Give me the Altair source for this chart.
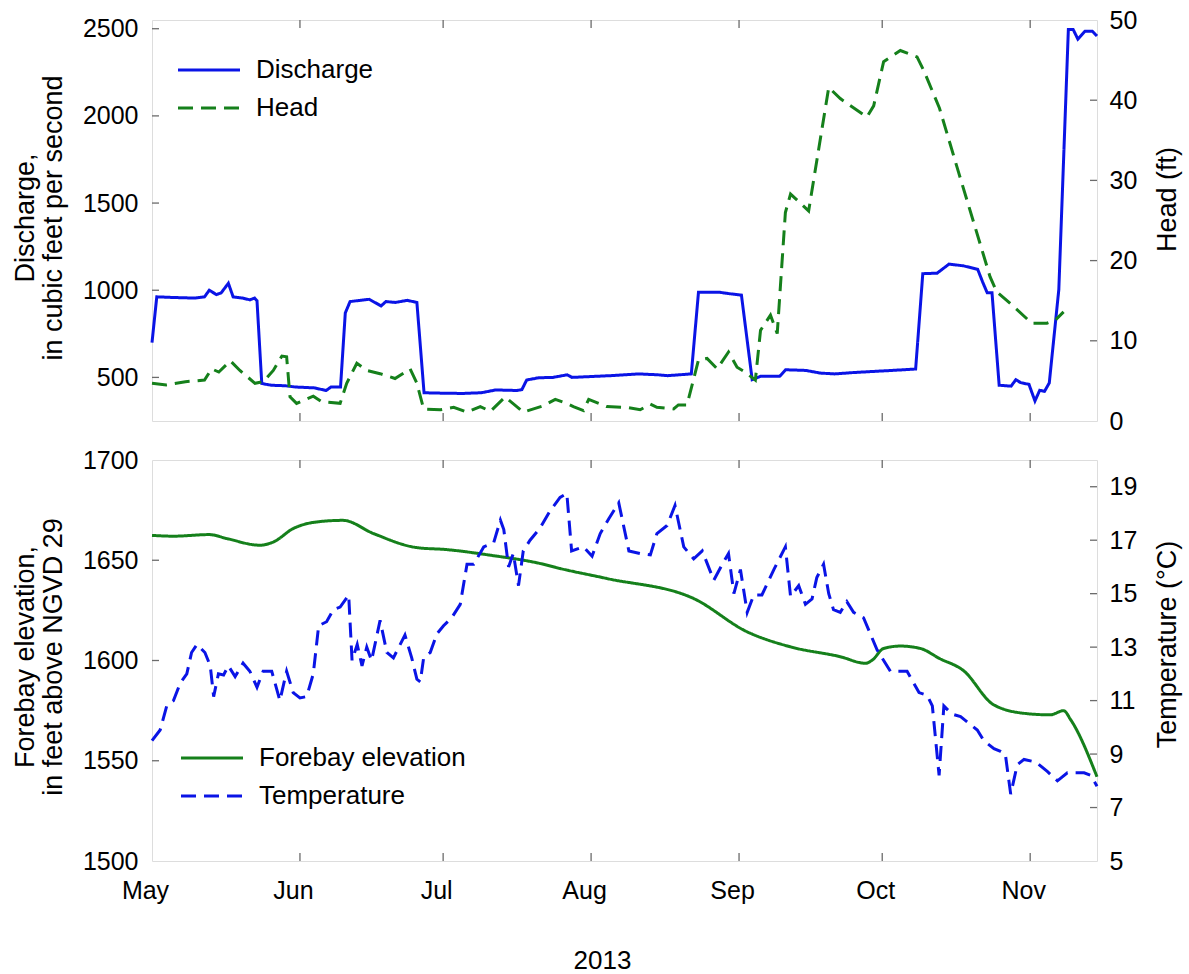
import altair as alt
import pandas as pd

# ---------------- data ----------------
discharge_dates = [
    "2013-05-01", "2013-05-02", "2013-05-06", "2013-05-10", "2013-05-12", "2013-05-13",
    "2013-05-14T12:00", "2013-05-15T12:00", "2013-05-17", "2013-05-18", "2013-05-20",
    "2013-05-21T12:00", "2013-05-22T12:00", "2013-05-23", "2013-05-24", "2013-05-26",
    "2013-05-29", "2013-05-31", "2013-06-04", "2013-06-06T12:00", "2013-06-07T12:00",
    "2013-06-09T12:00", "2013-06-10T12:00", "2013-06-11T12:00", "2013-06-13",
    "2013-06-15T12:00", "2013-06-18", "2013-06-19", "2013-06-21", "2013-06-23T12:00",
    "2013-06-25T12:00", "2013-06-27", "2013-06-30", "2013-07-05", "2013-07-09",
    "2013-07-12", "2013-07-16T12:00", "2013-07-17T12:00", "2013-07-18T12:00",
    "2013-07-21", "2013-07-24", "2013-07-27", "2013-07-28", "2013-08-01", "2013-08-05",
    "2013-08-11", "2013-08-15", "2013-08-17", "2013-08-21", "2013-08-22",
    "2013-08-23T12:00", "2013-08-28", "2013-08-30", "2013-09-01T12:00",
    "2013-09-03T18:00", "2013-09-05T12:00", "2013-09-09T12:00", "2013-09-10T18:00",
    "2013-09-15", "2013-09-18", "2013-09-21", "2013-09-25", "2013-09-29", "2013-10-03",
    "2013-10-08", "2013-10-09T12:00", "2013-10-12T12:00", "2013-10-15", "2013-10-18",
    "2013-10-21", "2013-10-22", "2013-10-23", "2013-10-24", "2013-10-25T12:00",
    "2013-10-28", "2013-10-29", "2013-10-30", "2013-10-31T18:00", "2013-11-02",
    "2013-11-03", "2013-11-04", "2013-11-05", "2013-11-07", "2013-11-09", "2013-11-10",
    "2013-11-11", "2013-11-12T12:00", "2013-11-14", "2013-11-15",
]
discharge_cfs = [
    700, 962, 958, 955, 962, 1000,
    975, 985, 1040, 962, 955,
    945, 955, 940, 465, 455,
    452, 445, 440, 425, 445,
    445, 870, 935, 940,
    948, 910, 935, 930, 942,
    930, 412, 410, 408, 412,
    428, 425, 430, 485,
    498, 500, 515, 500, 505, 510,
    520, 515, 510, 518, 520,
    988, 988, 980, 972,
    487, 506, 506, 544,
    540, 525, 520, 528, 534, 540,
    548, 1095, 1098, 1150, 1140,
    1120, 1050, 985, 985, 455,
    450, 487, 470, 460, 365,
    426, 420, 468, 1004, 2496, 2496,
    2440, 2486, 2486, 2458,
]

head_dates = [
    "2013-05-01", "2013-05-04", "2013-05-08", "2013-05-12", "2013-05-13T12:00",
    "2013-05-15", "2013-05-17T10:00", "2013-05-19T10:00", "2013-05-22T14:00",
    "2013-05-24T07:00", "2013-05-26T10:00", "2013-05-28T05:00", "2013-05-29T05:00",
    "2013-05-29T22:00", "2013-05-31T07:00", "2013-06-03T19:00", "2013-06-05T14:00",
    "2013-06-09T10:00", "2013-06-10T19:00", "2013-06-12T22:00", "2013-06-15",
    "2013-06-17T19:00", "2013-06-20T22:00", "2013-06-24T02:00", "2013-06-25T12:00",
    "2013-06-26T22:00", "2013-06-30T10:00", "2013-07-03T05:00", "2013-07-06",
    "2013-07-08T19:00", "2013-07-10T22:00", "2013-07-14", "2013-07-17T19:00",
    "2013-07-22", "2013-07-24T12:00", "2013-07-26T22:00", "2013-07-28T07:00",
    "2013-07-30T10:00", "2013-07-31T12:00", "2013-08-04T07:00", "2013-08-08T12:00",
    "2013-08-11T07:00", "2013-08-13T10:00", "2013-08-14T19:00", "2013-08-18T07:00",
    "2013-08-19T07:00", "2013-08-21T02:00", "2013-08-23T12:00", "2013-08-25T07:00",
    "2013-08-27T10:00", "2013-08-29T19:00", "2013-08-31T14:00", "2013-09-02T07:00",
    "2013-09-04T10:00", "2013-09-05T12:00", "2013-09-07T14:00", "2013-09-09",
    "2013-09-10T17:00", "2013-09-11T19:00", "2013-09-15T14:00", "2013-09-19T19:00",
    "2013-09-22T05:00", "2013-09-27T19:00", "2013-09-29T05:00", "2013-10-01T07:00",
    "2013-10-04T19:00", "2013-10-08T07:00", "2013-10-09T17:00", "2013-10-13",
    "2013-10-17", "2013-10-23T14:00", "2013-10-25", "2013-10-28T12:00",
    "2013-11-01T07:00", "2013-11-04T12:00", "2013-11-06T07:00", "2013-11-08",
]
head_ft = [
    4.7, 4.5, 4.9, 5.1, 6.5,
    6.1, 7.5, 6.3, 4.7,
    4.9, 6.3, 8.1, 8.0,
    3.0, 2.2, 3.1, 2.4,
    2.2, 4.7, 7.2, 6.3,
    5.9, 5.3, 6.5, 4.7,
    1.5, 1.4, 1.7, 1.1,
    1.8, 1.2, 3.0, 1.1,
    1.9, 2.7, 2.2, 1.8,
    1.3, 2.7, 1.8, 1.7,
    1.4, 2.1, 1.7, 1.5,
    2.0, 2.0, 7.6, 7.8,
    6.5, 8.6, 6.7, 6.1,
    5.1, 11.3, 13.2, 10.9,
    26.0, 28.3, 26.2, 41.6,
    40.2, 37.9, 39.3, 44.8,
    46.2, 45.4, 43.7, 39.0,
    31.0, 18.0, 16.1, 14.3,
    12.2, 12.2, 12.6, 13.6,
]

forebay_dates = [
    "2013-05-01", "2013-05-05T12:00", "2013-05-13", "2013-05-16T17:00",
    "2013-05-23T14:00", "2013-05-26T10:00", "2013-05-30T14:00", "2013-06-04T12:00",
    "2013-06-10", "2013-06-16T10:00", "2013-06-25T12:00", "2013-07-01T19:00",
    "2013-07-10T22:00", "2013-07-21T07:00", "2013-07-25T12:00", "2013-08-04T07:00",
    "2013-08-22T12:00", "2013-09-02T17:00", "2013-09-11T19:00", "2013-09-22T05:00",
    "2013-09-27T12:00", "2013-09-28T22:00", "2013-10-01T07:00", "2013-10-04T19:00",
    "2013-10-09", "2013-10-13", "2013-10-18", "2013-10-24T07:00", "2013-10-30T14:00",
    "2013-11-05T05:00", "2013-11-08", "2013-11-09T12:00", "2013-11-15",
]
forebay_ft = [
    1662.4, 1662.0, 1662.8, 1660.8,
    1657.5, 1659.1, 1665.8, 1669.1,
    1669.9, 1663.3, 1656.3, 1655.3,
    1652.5, 1648.4, 1645.9, 1640.9,
    1630.9, 1614.3, 1606.8, 1601.9,
    1598.6, 1600.2, 1606.0, 1607.2,
    1606.0, 1601.0, 1595.0, 1578.0, 1573.7,
    1572.9, 1575.0, 1570.4, 1542.0,
]

temp_dates = [
    "2013-05-01", "2013-05-02T17:00", "2013-05-04T02:00", "2013-05-05T12:00",
    "2013-05-06T22:00", "2013-05-08T07:00", "2013-05-09T07:00", "2013-05-10T10:00",
    "2013-05-12T02:00", "2013-05-13T05:00", "2013-05-13T22:00", "2013-05-14T22:00",
    "2013-05-16", "2013-05-17", "2013-05-18T10:00", "2013-05-20T02:00",
    "2013-05-21T12:00", "2013-05-23", "2013-05-24T07:00", "2013-05-26T02:00",
    "2013-05-27T19:00", "2013-05-29T05:00", "2013-05-30T14:00", "2013-06-01",
    "2013-06-02T10:00", "2013-06-03T19:00", "2013-06-04T22:00", "2013-06-06T14:00",
    "2013-06-08", "2013-06-09T10:00", "2013-06-11T05:00", "2013-06-11T22:00",
    "2013-06-13", "2013-06-14", "2013-06-15", "2013-06-16", "2013-06-17T19:00",
    "2013-06-19T05:00", "2013-06-20T14:00", "2013-06-23", "2013-06-24T10:00",
    "2013-06-25T12:00", "2013-06-26T05:00", "2013-06-26T22:00", "2013-06-28T07:00",
    "2013-06-29T17:00", "2013-07-01T02:00", "2013-07-02T19:00", "2013-07-04T14:00",
    "2013-07-06", "2013-07-07T10:00", "2013-07-09T12:00", "2013-07-11T14:00",
    "2013-07-13", "2013-07-13T17:00", "2013-07-14T17:00", "2013-07-15T17:00",
    "2013-07-16T19:00", "2013-07-17T19:00", "2013-07-19T05:00", "2013-07-21T07:00",
    "2013-07-23T10:00", "2013-07-25T12:00", "2013-07-26T22:00", "2013-07-27T22:00",
    "2013-07-30T10:00", "2013-08-01T05:00", "2013-08-02T22:00", "2013-08-04T17:00",
    "2013-08-06T19:00", "2013-08-08T22:00", "2013-08-11T07:00", "2013-08-13T10:00",
    "2013-08-14T19:00", "2013-08-16T22:00", "2013-08-18T14:00", "2013-08-20T10:00",
    "2013-08-22T12:00", "2013-08-24T07:00", "2013-08-26T17:00", "2013-08-28T12:00",
    "2013-08-29T19:00", "2013-08-30T22:00", "2013-09-01T07:00", "2013-09-02T17:00",
    "2013-09-04T02:00", "2013-09-05T19:00", "2013-09-08T07:00", "2013-09-10T17:00",
    "2013-09-11T19:00", "2013-09-13T12:00", "2013-09-14T22:00", "2013-09-16T07:00",
    "2013-09-17T07:00", "2013-09-18T17:00", "2013-09-19T19:00", "2013-09-20T19:00",
    "2013-09-22T05:00", "2013-09-23T14:00", "2013-09-25", "2013-09-27T02:00",
    "2013-09-28T12:00", "2013-09-29T22:00", "2013-10-02T17:00", "2013-10-06T05:00",
    "2013-10-08T17:00", "2013-10-10T10:00", "2013-10-11T12:00", "2013-10-12T22:00",
    "2013-10-13T22:00", "2013-10-15T14:00", "2013-10-17T10:00", "2013-10-20T22:00",
    "2013-10-22T07:00", "2013-10-24T10:00", "2013-10-25T19:00", "2013-10-26T19:00",
    "2013-10-27T22:00", "2013-10-29T07:00", "2013-10-30T17:00", "2013-11-02T05:00",
    "2013-11-04T14:00", "2013-11-06T17:00", "2013-11-08T19:00", "2013-11-12T07:00",
    "2013-11-13T17:00", "2013-11-15",
]
temp_c = [
    9.5, 9.9, 10.8, 11.0,
    11.65, 12.0, 12.8, 13.1,
    12.8, 12.3, 11.15, 12.0,
    11.96, 12.3, 11.9, 12.4,
    12.1, 11.5, 12.1, 12.1,
    11.0, 12.1, 11.3, 11.1,
    11.15, 12.0, 13.8, 13.95,
    14.4, 14.5, 14.95, 12.5,
    13.1, 12.3, 13.0, 12.5, 14.0,
    12.8, 12.6, 13.45, 12.6,
    11.8, 11.7, 12.6, 12.8,
    13.5, 13.8, 14.1, 14.6,
    16.1, 16.1, 16.75, 16.9,
    17.75, 17.4, 16.0, 16.5,
    15.3, 16.6, 17.0, 17.45,
    18.1, 18.6, 18.75, 16.6,
    16.75, 16.4, 17.25, 17.8,
    18.4, 16.6, 16.5, 16.45,
    17.25, 17.55, 18.3, 16.75,
    16.3, 16.6, 15.5, 16.1,
    16.5, 15.0, 15.9, 14.3,
    14.95, 14.95, 15.9, 16.75,
    14.9, 15.3, 14.6, 14.8,
    15.6, 16.1, 15.0, 14.4,
    14.3, 14.7, 14.3, 14.1,
    13.5, 12.9, 12.1, 12.1,
    11.3, 11.2, 10.8, 8.2,
    10.8, 10.5, 10.4, 9.9,
    9.5, 9.2, 9.1, 9.0,
    7.5, 8.6, 8.8, 8.7,
    8.35, 8.0, 8.3, 8.3,
    8.2, 7.8,
]

month_starts = ["2013-06-01", "2013-07-01", "2013-08-01", "2013-09-01", "2013-10-01", "2013-11-01"]
discharge_ticks = [500, 1000, 1500, 2000, 2500]
head_ticks = [0, 10, 20, 30, 40, 50]
elevation_ticks = [1500, 1550, 1600, 1650, 1700]
temp_ticks = [5, 7, 9, 11, 13, 15, 17, 19]

# ---------------- styling ----------------
W, H = 945, 401
BLUE = "#0a14e6"
GREEN = "#15801b"
FRAME = "#6b6b6b"
FONT = "Liberation Sans"
DASH = [15, 8]
SOLID = [1, 0]
T0 = alt.DateTime(year=2013, month=5, date=1)
T1 = alt.DateTime(year=2013, month=11, date=15)


def series_frame(dates, values, field, name):
    return pd.DataFrame({
        "date": pd.to_datetime(dates, format="ISO8601"),
        field: values,
        "series": name,
    })


def x_enc(with_labels):
    if with_labels:
        axis = alt.Axis(
            values=[alt.DateTime(year=2013, month=m, date=1) for m in range(5, 12)],
            format="%b", ticks=False, tickSize=0, domain=False, grid=False,
            labelFontSize=25, labelPadding=17, labelOffset=-7, labelFlush=False,
            labelOverlap=False, title="2013", titleFontSize=26, titleFontWeight="normal",
            titleX=450, titleY=107, titleAlign="center", titleBaseline="alphabetic",
        )
    else:
        axis = None
    return alt.X("date:T", scale=alt.Scale(domain=[T0, T1], nice=False), axis=axis)


def y_enc(field, domain, values, title, orient, title_x, title_y, pad):
    axis = alt.Axis(
        orient=orient, values=values, ticks=False, tickSize=0, domain=False, grid=False,
        labelFontSize=25, labelPadding=pad, labelFlush=False, labelOverlap=False,
        format="d", title=title, titleFontSize=27, titleFontWeight="normal",
        titleAngle=270, titleAlign="center", titleBaseline="middle",
        titleX=title_x, titleY=title_y, titleLineHeight=28,
    )
    return alt.Y(f"{field}:Q", scale=alt.Scale(domain=domain, nice=False, zero=False), axis=axis)


def legend_encodings(names, colors, lx, ly):
    legend = alt.Legend(
        title=None, orient="none", legendX=lx, legendY=ly, padding=0,
        symbolType="M-3,0H3", symbolSize=427, symbolStrokeWidth=3,
        labelFontSize=26, labelOffset=34, rowPadding=12, labelLimit=400,
    )
    color = alt.Color("series:N", scale=alt.Scale(domain=names, range=colors), legend=legend)
    dash = alt.StrokeDash("series:N", scale=alt.Scale(domain=names, range=[SOLID, DASH]),
                          legend=legend)
    return color, dash


def inner_ticks(field, values, y, side):
    df = pd.DataFrame({field: values})
    if side == "left":
        xs = dict(x=alt.value(0), x2=alt.value(7))
    else:
        xs = dict(x=alt.value(W - 7), x2=alt.value(W))
    return alt.Chart(df).mark_rule(color=FRAME, strokeWidth=1.3).encode(y=y, **xs)


def month_ticks(x):
    df = pd.DataFrame({"date": pd.to_datetime(month_starts)})
    base = alt.Chart(df).mark_rule(color=FRAME, strokeWidth=1.3)
    return (base.encode(x=x, y=alt.value(0), y2=alt.value(8))
            + base.encode(x=x, y=alt.value(H - 8), y2=alt.value(H)))


def panel(left_df, left_field, left_y, left_tick_vals, left_interp,
          right_df, right_field, right_y, right_tick_vals,
          names, colors, lx, ly, with_labels):
    x = x_enc(with_labels)
    color, dash = legend_encodings(names, colors, lx, ly)
    left_line = alt.Chart(left_df).mark_line(strokeWidth=3, interpolate=left_interp).encode(
        x=x, y=left_y, color=color, strokeDash=dash)
    right_line = alt.Chart(right_df).mark_line(strokeWidth=3).encode(
        x=x, y=right_y, color=color, strokeDash=dash)
    left_group = alt.layer(
        left_line,
        inner_ticks(left_field, left_tick_vals, left_y, "left"),
        month_ticks(x),
    )
    right_group = alt.layer(
        right_line,
        inner_ticks(right_field, right_tick_vals, right_y, "right"),
    )
    return alt.layer(left_group, right_group).resolve_scale(y="independent").properties(
        width=W, height=H)


discharge_df = series_frame(discharge_dates, discharge_cfs, "discharge", "Discharge")
head_df = series_frame(head_dates, head_ft, "head", "Head")
forebay_df = series_frame(forebay_dates, forebay_ft, "elevation", "Forebay elevation")
temp_df = series_frame(temp_dates, temp_c, "temperature", "Temperature")

top = panel(
    discharge_df, "discharge",
    y_enc("discharge", [250, 2550], discharge_ticks,
          ["Discharge,", "in cubic feet per second"], "left", -127, H / 2 - 3, 14),
    [500, 1000, 1500, 2000, 2500], "linear",
    head_df, "head",
    y_enc("head", [0, 50], head_ticks, "Head (ft)", "right", 70, 179, 12),
    [10, 20, 30, 40],
    ["Discharge", "Head"], [BLUE, GREEN], 44, 37, False,
)

bottom = panel(
    forebay_df, "elevation",
    y_enc("elevation", [1500, 1700], elevation_ticks,
          ["Forebay elevation,", "in feet above NGVD 29"], "left", -127, H / 2 - 4, 14),
    [1550, 1600, 1650], "monotone",
    temp_df, "temperature",
    y_enc("temperature", [5, 20], temp_ticks, "Temperature (°C)", "right", 70, 184, 12),
    [7, 9, 11, 13, 15, 17, 19],
    ["Forebay elevation", "Temperature"], [GREEN, BLUE], 47, 285, True,
)

chart = (
    alt.vconcat(top, bottom, spacing=39, bounds="flush")
    .resolve_scale(color="independent", strokeDash="independent")
    .properties(padding={"left": 10, "top": 7, "right": 5, "bottom": 2})
    .configure_axis(labelFont=FONT, titleFont=FONT, labelColor="black", titleColor="black")
    .configure_legend(labelFont=FONT, labelColor="black")
    .configure_view(stroke=FRAME, strokeWidth=1.5)
    .configure(background="white")
)

chart.save("out.html", embed_options={"renderer": "svg", "actions": False})
